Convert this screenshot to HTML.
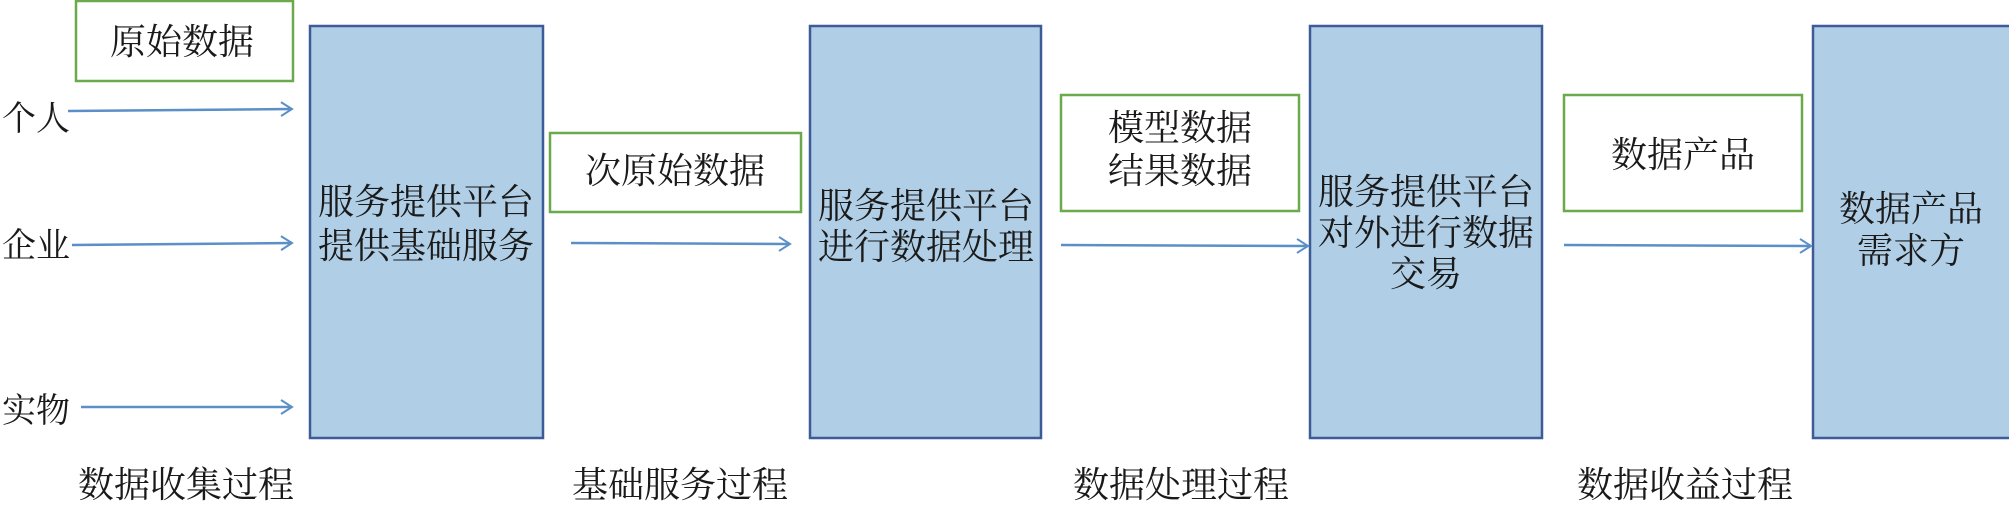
<!DOCTYPE html>
<html><head><meta charset="utf-8"><style>
html,body{margin:0;padding:0;background:#fff;}
svg{display:block;}
text{font-family:"Liberation Serif","Noto Serif CJK SC",serif;fill:#1a1a1a;font-size:36px;text-anchor:middle;}
</style></head><body>
<svg width="2009" height="505" viewBox="0 0 2009 505" xmlns="http://www.w3.org/2000/svg">
<defs>
<marker id="a" markerWidth="16" markerHeight="16" refX="13" refY="8" orient="auto" markerUnits="userSpaceOnUse">
<path d="M2,1 L13,8 L2,15" fill="none" stroke="#5b8fc7" stroke-width="2"/>
</marker>
</defs>
<g fill="#b0cfe6" stroke="#3d5a99" stroke-width="2.5">
<rect x="310" y="26" width="233" height="412"/>
<rect x="810" y="26" width="231" height="412"/>
<rect x="1310" y="26" width="232" height="412"/>
<rect x="1813" y="26" width="200" height="412"/>
</g>
<g fill="#fff" stroke="#6aaa4a" stroke-width="2.5">
<rect x="76" y="1" width="217" height="80"/>
<rect x="550" y="133" width="251" height="79"/>
<rect x="1061" y="95" width="238" height="116"/>
<rect x="1564" y="95" width="238" height="116"/>
</g>
<g stroke="#5b8fc7" stroke-width="2.5" marker-end="url(#a)">
<line x1="68" y1="111" x2="292" y2="109"/>
<line x1="72" y1="245" x2="292" y2="243"/>
<line x1="81" y1="407" x2="292" y2="407"/>
<line x1="571" y1="243" x2="790" y2="244"/>
<line x1="1061" y1="245" x2="1308" y2="246"/>
<line x1="1564" y1="245" x2="1811" y2="246"/>
</g>
<text x="182" y="54">原始数据</text>
<text x="675" y="183">次原始数据</text>
<text x="1180" y="140">模型数据</text>
<text x="1180" y="183">结果数据</text>
<text x="1683" y="167">数据产品</text>
<text x="36" y="130" style="font-size:34px">个人</text>
<text x="36" y="257" style="font-size:34px">企业</text>
<text x="36" y="422" style="font-size:34px">实物</text>
<text x="426" y="214">服务提供平台</text>
<text x="426" y="258">提供基础服务</text>
<text x="926" y="218">服务提供平台</text>
<text x="926" y="259">进行数据处理</text>
<text x="1426" y="204">服务提供平台</text>
<text x="1426" y="245">对外进行数据</text>
<text x="1426" y="286">交易</text>
<text x="1911" y="221">数据产品</text>
<text x="1911" y="263">需求方</text>
<text x="186" y="497">数据收集过程</text>
<text x="680" y="497">基础服务过程</text>
<text x="1181" y="497">数据处理过程</text>
<text x="1685" y="497">数据收益过程</text>
</svg>
</body></html>
